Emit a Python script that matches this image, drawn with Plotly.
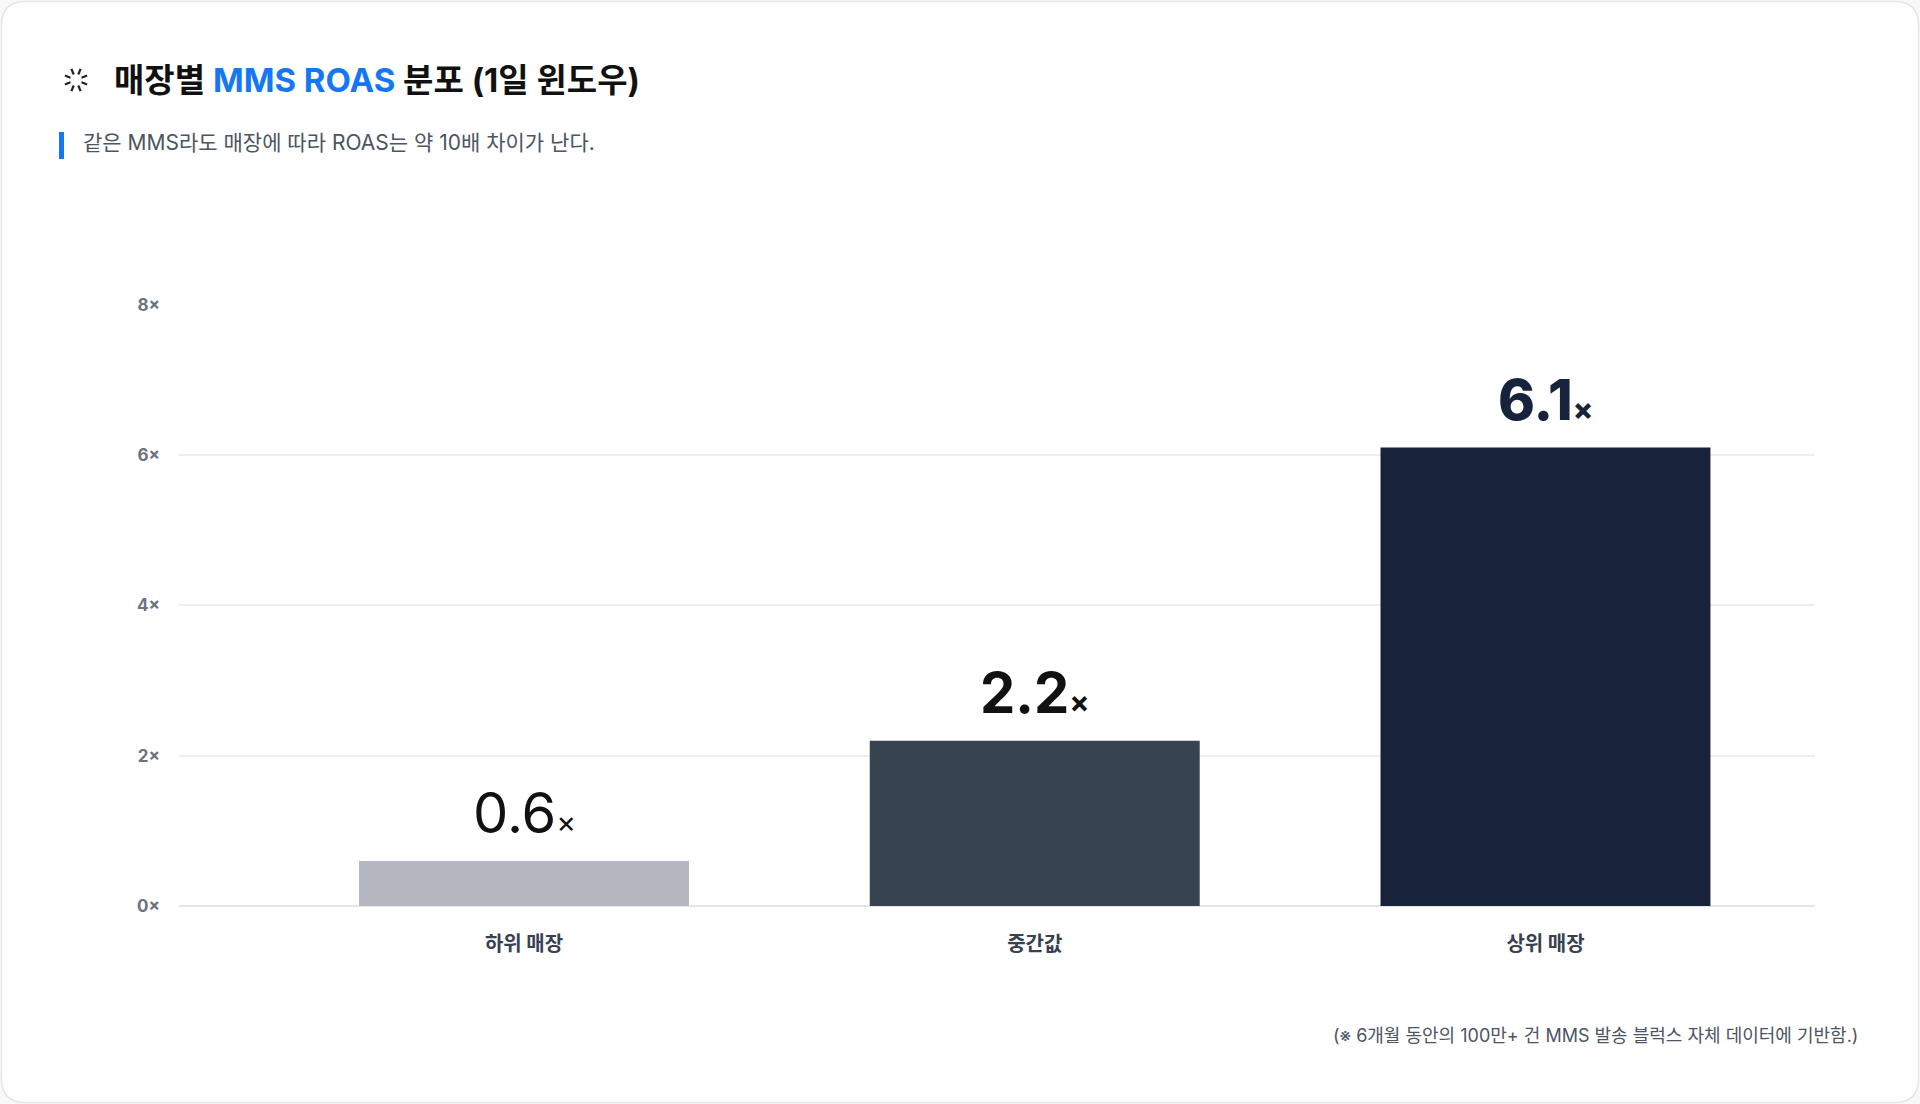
import math
import plotly.graph_objects as go

# ---- data ----
categories = ["하위 매장", "중간값", "상위 매장"]
roas_values = [0.6, 2.2, 6.1]
value_labels = ["0.6", "2.2", "6.1"]
y_tick_values = [0, 2, 4, 6, 8]
y_tick_labels = ["0×", "2×", "4×", "6×", "8×"]

title_pre = "매장별 "
title_hl = "MMS ROAS"
title_post = " 분포 (1일 윈도우)"
subtitle = "같은 MMS라도 매장에 따라 ROAS는 약 10배 차이가 난다."
footnote = "(※ 6개월 동안의 100만+ 건 MMS 발송 블럭스 자체 데이터에 기반함.)"

# ---- styles ----
W, H = 1920, 1104
PL, PR, PT, PB = 179, 1815, 304, 906
YMAX = 8.01
bar_colors = ["#b5b7c0", "#374351", "#16233a"]
label_colors = ["#111111", "#111111", "#16233a"]
label_weights = [400, 700, 800]
FONT = "Inter, 'Noto Sans CJK KR', sans-serif"
KFONT = "'Noto Sans CJK KR', Inter, sans-serif"
BLUE = "#1677f5"


def px(x):
    return (x - PL) / (PR - PL)


def py(y):
    return (PB - y) / (PB - PT)


fig = go.Figure()
fig.add_trace(go.Bar(
    x=categories, y=roas_values,
    marker=dict(color=bar_colors, line=dict(width=0)),
    hoverinfo="skip", showlegend=False,
))

annotations = []
for cat, val, lab, col, wt in zip(categories, roas_values, value_labels, label_colors, label_weights):
    annotations.append(dict(
        x=cat, y=val, xref="x", yref="y",
        text=f"{lab}<span style='font-size:30px'>×</span>",
        showarrow=False, xanchor="center", yanchor="bottom", yshift=12,
        font=dict(family=FONT, size=56, color=col, weight=wt),
    ))

annotations.append(dict(
    x=px(111.5), y=py(80), xref="paper", yref="paper", xanchor="left", yanchor="middle",
    text=f"{title_pre}<span style='color:{BLUE}'>{title_hl}</span>{title_post}",
    showarrow=False, font=dict(family=FONT, size=33, color="#111111", weight=700),
))
annotations.append(dict(
    x=px(81), y=py(143), xref="paper", yref="paper", xanchor="left", yanchor="middle",
    text=subtitle, showarrow=False,
    font=dict(family=FONT, size=21, color="#4b5563"),
))
annotations.append(dict(
    x=px(1860), y=py(1035), xref="paper", yref="paper", xanchor="right", yanchor="middle",
    text=footnote, showarrow=False,
    font=dict(family=FONT, size=18, color="#4b5563"),
))

shapes = []
# card with rounded corners
x0, x1, y0, y1, r = 1.5, 1918.5, 1.5, 1102.5, 24
pts = [
    f"M {px(x0 + r)},{py(y0)}",
    f"L {px(x1 - r)},{py(y0)}",
    f"Q {px(x1)},{py(y0)} {px(x1)},{py(y0 + r)}",
    f"L {px(x1)},{py(y1 - r)}",
    f"Q {px(x1)},{py(y1)} {px(x1 - r)},{py(y1)}",
    f"L {px(x0 + r)},{py(y1)}",
    f"Q {px(x0)},{py(y1)} {px(x0)},{py(y1 - r)}",
    f"L {px(x0)},{py(y0 + r)}",
    f"Q {px(x0)},{py(y0)} {px(x0 + r)},{py(y0)}",
    "Z",
]
shapes.append(dict(type="path", path=" ".join(pts), xref="paper", yref="paper",
                   fillcolor="#ffffff", line=dict(color="#e3e5e9", width=1.5), layer="below"))
# spinner icon
cx, cy = 76, 80
for k in range(8):
    a = math.radians(k * 45 + 22.5)
    r0, r1 = 6, 12
    shapes.append(dict(type="line", xref="paper", yref="paper",
                       x0=px(cx + r0 * math.cos(a)), y0=py(cy + r0 * math.sin(a)),
                       x1=px(cx + r1 * math.cos(a)), y1=py(cy + r1 * math.sin(a)),
                       line=dict(color="#222222", width=2.2)))
# blue accent bar
shapes.append(dict(type="rect", xref="paper", yref="paper",
                   x0=px(59), x1=px(64), y0=py(132), y1=py(159),
                   fillcolor=BLUE, line=dict(width=0)))

fig.update_layout(
    width=W, height=H,
    margin=dict(l=PL, r=W - PR, t=PT, b=H - PB, pad=0),
    paper_bgcolor="#f7f8fa", plot_bgcolor="rgba(0,0,0,0)",
    bargap=0.354,
    annotations=annotations, shapes=shapes,
    font=dict(family=FONT),
    hovermode=False,
)
fig.update_xaxes(
    range=[-0.6755, 2.5277], showgrid=False, zeroline=False, showline=False,
    ticks="", ticklabelstandoff=24,
    tickfont=dict(family=KFONT, size=20, color="#374151", weight=700),
    fixedrange=True,
)
fig.update_yaxes(
    range=[0, YMAX], tickvals=y_tick_values, ticktext=y_tick_labels,
    showgrid=True, gridcolor="#eceef1", gridwidth=1.5,
    zeroline=True, zerolinecolor="#e3e5e9", zerolinewidth=1.5,
    showline=False, ticks="", ticklabelstandoff=18,
    tickfont=dict(family=FONT, size=17, color="#6b7280", weight=700),
    fixedrange=True,
)

fig.write_html(
    "out.html",
    config={"displayModeBar": False},
    post_script="document.body.style.margin='0';document.body.style.overflow='hidden';",
)
